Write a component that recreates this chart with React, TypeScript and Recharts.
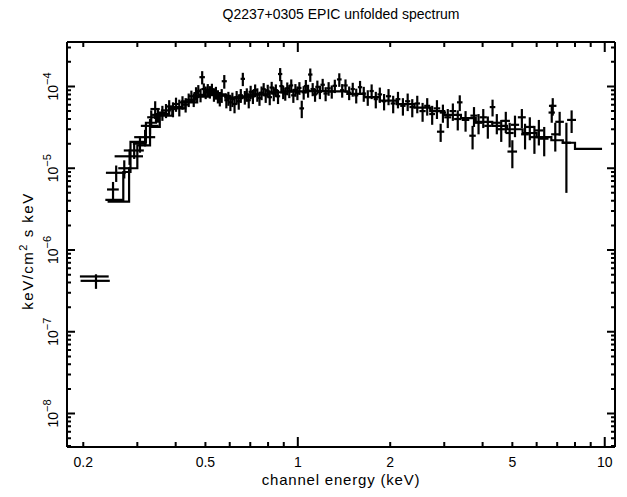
// Q2237+0305 EPIC unfolded spectrum — log-log spectrum with error crosses and step model

import React from 'react';
import { ComposedChart, XAxis, YAxis, Scatter, ErrorBar, Line } from 'recharts';

// ── data: [energy keV, half bin width keV, flux, flux error]  (flux in 1e-5 keV/cm² s keV) ──

const softBand: number[][] = [
  [0.220, 0.024, 0.042, 0.0085],
  [0.250, 0.011, 0.55, 0.13],
  [0.256, 0.019, 0.88, 0.2],
  [0.272, 0.012, 1.0, 0.25],
  [0.283, 0.030, 1.4, 0.3],
  [0.293, 0.022, 1.65, 0.35],
  [0.306, 0.016, 2.0, 0.45],
  [0.318, 0.025, 2.4, 0.55],
  [0.330, 0.022, 3.3, 0.7],
  [0.333, 0.010, 4.2, 0.9],
  [0.343, 0.012, 5.3, 1.3],
  [0.350, 0.015, 4.5, 0.9],
  [0.362, 0.012, 4.8, 1.0],
  [0.372, 0.014, 5.1, 1.0],
  [0.381, 0.010, 5.7, 1.1],
  [0.392, 0.012, 5.3, 1.1],
  [0.401, 0.010, 6.1, 1.2],
  [0.411, 0.012, 5.6, 1.3],
  [0.421, 0.010, 6.4, 1.2],
  [0.431, 0.012, 6.0, 1.2],
  [0.441, 0.010, 6.9, 1.3],
];

const peakBand: number[][] = [
  [0.450, 0.010, 7.6, 1.3],
  [0.458, 0.009, 6.9, 1.3],
  [0.466, 0.009, 8.3, 1.5],
  [0.474, 0.009, 8.8, 1.6],
  [0.482, 0.009, 7.9, 1.5],
  [0.488, 0.010, 13.0, 2.4],
  [0.494, 0.009, 9.3, 1.6],
  [0.501, 0.009, 8.5, 1.5],
  [0.509, 0.009, 9.1, 1.6],
  [0.517, 0.009, 8.6, 1.5],
  [0.525, 0.009, 9.2, 1.6],
  [0.533, 0.009, 8.0, 1.5],
  [0.541, 0.009, 8.4, 1.5],
  [0.549, 0.009, 7.6, 1.4],
  [0.557, 0.009, 7.1, 1.4],
  [0.565, 0.009, 7.8, 1.5],
  [0.576, 0.011, 11.6, 2.2],
  [0.585, 0.009, 6.8, 1.4],
  [0.594, 0.011, 7.2, 1.4],
  [0.603, 0.011, 6.4, 1.4],
  [0.612, 0.011, 7.0, 1.4],
  [0.622, 0.011, 6.1, 1.4],
  [0.632, 0.011, 7.4, 1.4],
  [0.642, 0.011, 6.6, 1.4],
  [0.652, 0.011, 7.8, 1.5],
  [0.662, 0.011, 12.4, 2.3],
  [0.672, 0.011, 7.4, 1.4],
  [0.682, 0.011, 8.0, 1.5],
  [0.692, 0.011, 6.8, 1.4],
  [0.702, 0.011, 8.6, 1.6],
  [0.714, 0.012, 7.6, 1.5],
  [0.726, 0.012, 9.0, 1.6],
  [0.738, 0.012, 8.0, 1.5],
  [0.750, 0.012, 7.2, 1.4],
  [0.762, 0.012, 8.4, 1.6],
  [0.774, 0.012, 9.3, 1.7],
  [0.786, 0.012, 7.8, 1.5],
  [0.798, 0.012, 8.9, 1.6],
  [0.810, 0.014, 7.4, 1.5],
  [0.822, 0.014, 9.7, 1.7],
  [0.835, 0.014, 8.2, 1.6],
  [0.848, 0.014, 9.0, 1.6],
  [0.862, 0.014, 7.6, 1.5],
  [0.876, 0.014, 14.2, 2.6],
  [0.884, 0.014, 10.1, 1.9],
  [0.896, 0.014, 8.6, 1.6],
  [0.910, 0.014, 8.2, 1.5],
  [0.924, 0.014, 9.5, 1.7],
  [0.938, 0.014, 8.8, 1.6],
  [0.952, 0.014, 10.3, 1.9],
  [0.967, 0.016, 7.8, 1.5],
  [0.982, 0.016, 9.1, 1.6],
  [0.997, 0.016, 8.4, 1.6],
];

const midBand: number[][] = [
  [1.012, 0.016, 9.6, 1.7],
  [1.030, 0.018, 5.4, 1.3],
  [1.045, 0.016, 8.5, 1.6],
  [1.062, 0.016, 10.1, 1.9],
  [1.080, 0.016, 8.9, 1.6],
  [1.098, 0.018, 14.0, 2.6],
  [1.118, 0.018, 9.3, 1.7],
  [1.138, 0.018, 8.0, 1.5],
  [1.158, 0.018, 9.9, 1.9],
  [1.180, 0.018, 8.6, 1.6],
  [1.205, 0.020, 10.5, 1.9],
  [1.232, 0.020, 8.2, 1.6],
  [1.260, 0.020, 9.5, 1.8],
  [1.290, 0.022, 8.7, 1.6],
  [1.320, 0.022, 10.2, 1.9],
  [1.365, 0.024, 12.2, 2.3],
  [1.395, 0.022, 9.0, 1.7],
  [1.430, 0.024, 10.3, 1.9],
  [1.470, 0.024, 8.4, 1.6],
  [1.510, 0.024, 9.3, 1.8],
  [1.550, 0.024, 7.8, 1.6],
  [1.595, 0.026, 9.8, 1.9],
  [1.640, 0.026, 8.2, 1.7],
  [1.690, 0.026, 7.4, 1.6],
  [1.740, 0.028, 8.8, 1.8],
  [1.795, 0.028, 7.0, 1.6],
  [1.850, 0.032, 8.0, 1.7],
  [1.910, 0.032, 6.6, 1.5],
  [1.975, 0.038, 7.6, 1.7],
  [2.045, 0.038, 6.2, 1.5],
  [2.120, 0.038, 7.0, 1.6],
  [2.200, 0.044, 5.8, 1.4],
  [2.280, 0.044, 6.6, 1.6],
  [2.360, 0.050, 5.6, 1.4],
  [2.450, 0.050, 6.2, 1.5],
  [2.550, 0.060, 5.0, 1.3],
  [2.640, 0.060, 5.8, 1.4],
  [2.740, 0.060, 4.6, 1.2],
  [2.840, 0.070, 5.4, 1.4],
  [2.920, 0.080, 2.8, 0.7],
  [2.970, 0.070, 4.8, 1.2],
];

const hardBand: number[][] = [
  [3.08, 0.08, 4.2, 1.1],
  [3.20, 0.08, 5.0, 1.2],
  [3.32, 0.09, 4.0, 1.1],
  [3.37, 0.07, 6.4, 1.4],
  [3.52, 0.10, 3.9, 1.1],
  [3.71, 0.09, 2.5, 0.8],
  [3.75, 0.10, 4.4, 1.2],
  [3.88, 0.11, 3.6, 1.0],
  [4.02, 0.11, 4.2, 1.1],
  [4.16, 0.11, 3.3, 1.0],
  [4.31, 0.09, 5.6, 1.3],
  [4.45, 0.13, 3.6, 1.0],
  [4.60, 0.13, 3.0, 0.9],
  [4.76, 0.15, 3.8, 1.1],
  [4.90, 0.15, 2.7, 0.9],
  [5.00, 0.18, 1.6, 0.6],
  [5.10, 0.16, 3.4, 1.0],
  [5.37, 0.16, 4.2, 1.1],
  [5.50, 0.16, 2.6, 0.9],
  [5.70, 0.19, 3.2, 1.0],
  [5.90, 0.19, 2.4, 0.9],
  [6.10, 0.21, 2.9, 1.0],
  [6.35, 0.21, 2.3, 0.9],
  [6.72, 0.16, 4.8, 1.2],
  [6.77, 0.19, 5.8, 1.4],
  [6.90, 0.21, 2.6, 1.0],
  [7.13, 0.23, 3.7, 1.2],
  [7.50, 0.26, 2.05, 1.55],
  [7.80, 0.26, 3.9, 1.2],
];

// model steps: [bin start keV, model flux] (last entry closes the final bin)
const modelLowBin: number[][] = [
  [0.195, 0.0475],
  [0.242, 0.0475],
];

const modelPn: number[][] = [
  [0.236, 0.41], [0.270, 0.90], [0.285, 2.1], [0.320, 3.6], [0.345, 4.6],
  [0.38, 5.6], [0.42, 6.6], [0.46, 7.8], [0.50, 8.6], [0.54, 8.0],
  [0.58, 7.3], [0.64, 7.4], [0.70, 8.0], [0.80, 8.5], [0.90, 8.7],
  [1.05, 8.8], [1.25, 8.7], [1.45, 8.1], [1.65, 7.4], [1.85, 6.7],
  [2.1, 6.1], [2.4, 5.5], [2.7, 5.0], [3.0, 4.5], [3.4, 4.1],
  [3.8, 3.7], [4.3, 3.3], [4.8, 3.0], [5.4, 2.7], [6.0, 2.4],
  [6.7, 2.2], [7.3, 2.05], [8.0, 1.73], [9.8, 1.73],
];

const modelMos: number[][] = [
  [0.240, 0.39], [0.282, 1.0], [0.300, 1.9], [0.330, 3.2], [0.355, 4.4],
  [0.39, 5.4], [0.43, 6.4], [0.47, 7.5], [0.51, 8.3], [0.56, 7.7],
  [0.60, 7.2], [0.66, 7.6], [0.72, 7.6],
];

// ── axes ──

const X_DOMAIN = [0.177, 10.8];
const Y_DOMAIN = [3.9e-9, 3.5e-4];
const xTicks = [0.2, 0.3, 0.4, 0.5, 0.6, 0.7, 0.8, 0.9, 1, 2, 3, 4, 5, 6, 7, 8, 9, 10];
const xMajor = [1, 10];
const xLabels = [0.2, 0.5, 1, 2, 5, 10];
const yDecades = [-9, -8, -7, -6, -5, -4];
const yMultipliers = [1, 2, 3, 4, 5, 6, 7, 8, 9];
const yLabelExps = [-8, -7, -6, -5, -4];

const yTicks = yDecades
  .flatMap((d) => yMultipliers.map((m) => Number((m * Math.pow(10, d)).toPrecision(3))))
  .filter((v) => v >= Y_DOMAIN[0] && v <= Y_DOMAIN[1]);

const isYMajor = (v: number) => yLabelExps.some((p) => Math.abs(v / Math.pow(10, p) - 1) < 1e-6);
const yExp = (v: number) => Math.round(Math.log10(v));

const UNIT = 1e-5;
const toPoints = (rows: number[][]) =>
  rows.map(([e, de, f, df]) => ({ e, ex: de, f: f * UNIT, fy: df * UNIT }));
const toModel = (rows: number[][]) => rows.map(([e, m]) => ({ e, m: m * UNIT }));

const spectrum = toPoints([...softBand, ...peakBand, ...midBand, ...hardBand]);

// ── layout ──

const W = 627;
const H = 497;
const MARGIN = { top: 41, right: 11, bottom: 49, left: 66 };
const PLOT = { left: 67, top: 42, right: 615, bottom: 447 }; // margin + 1px axis box

const FONT = '"Liberation Sans", Arial, sans-serif';
const INK = '#000';
const LW = 2.2;

// same log mapping as the axes, used for the inward frame ticks overlay
const logFrac = (v: number, [a, b]: number[]) => Math.log(v / a) / Math.log(b / a);
const xPix = (v: number) => PLOT.left + (PLOT.right - PLOT.left) * logFrac(v, X_DOMAIN);
const yPix = (v: number) => PLOT.bottom - (PLOT.bottom - PLOT.top) * logFrac(v, Y_DOMAIN);

function FrameTicks() {
  const segs: string[] = [];
  xTicks.forEach((v) => {
    const x = xPix(v);
    const len = xMajor.includes(v) ? 10 : 5;
    segs.push(`M${x},${PLOT.bottom}v${-len}`, `M${x},${PLOT.top}v${len}`);
  });
  yTicks.forEach((v) => {
    const y = yPix(v);
    const len = isYMajor(v) ? 8 : 4;
    segs.push(`M${PLOT.left},${y}h${len}`, `M${PLOT.right},${y}h${-len}`);
  });
  return (
    <svg width={W} height={H} style={{ position: 'absolute', left: 0, top: 0, pointerEvents: 'none' }}>
      <path d={segs.join('')} stroke={INK} strokeWidth={2} fill="none" />
    </svg>
  );
}

// ── tick labels ──

function BottomLabel(props: any) {
  const v = props.payload.value as number;
  if (!xLabels.includes(v)) return <g />;
  return (
    <text x={Number(props.x)} y={Number(props.y) + 20} textAnchor="middle" fontSize={14} fontFamily={FONT} fill={INK}>
      {v}
    </text>
  );
}

function LeftLabel(props: any) {
  const v = props.payload.value as number;
  if (!isYMajor(v)) return <g />;
  return (
    <text
      transform={`translate(${Number(props.x) - 9},${Number(props.y)}) rotate(-90)`}
      textAnchor="middle"
      fontSize={14}
      fontFamily={FONT}
      fill={INK}
    >
      10
      <tspan dy={-7} fontSize={11}>
        {String(yExp(v)).replace('-', '−')}
      </tspan>
    </text>
  );
}

const noMark = () => <g />;

export default function App() {
  const frame = { stroke: INK, strokeWidth: 2 };
  return (
    <div style={{ position: 'absolute', left: 0, top: 0, width: W, height: H, background: '#fff' }}>
      <ComposedChart width={W} height={H} margin={MARGIN}>
        <XAxis xAxisId={0} dataKey="e" type="number" scale="log" domain={X_DOMAIN} allowDataOverflow ticks={xTicks} interval={0} height={1}
          tickSize={0} tickMargin={0} tickLine={false} axisLine={frame} tick={BottomLabel} />
        <XAxis xAxisId="top" orientation="top" dataKey="e" type="number" scale="log" domain={X_DOMAIN} allowDataOverflow ticks={xTicks} interval={0} height={1}
          tickSize={0} tickMargin={0} tickLine={false} axisLine={frame} tick={false} />
        <YAxis yAxisId={0} type="number" scale="log" domain={Y_DOMAIN} allowDataOverflow ticks={yTicks} interval={0} width={1}
          tickSize={0} tickMargin={0} tickLine={false} axisLine={frame} tick={LeftLabel} />
        <YAxis yAxisId="right" orientation="right" type="number" scale="log" domain={Y_DOMAIN} allowDataOverflow ticks={yTicks} interval={0} width={1}
          tickSize={0} tickMargin={0} tickLine={false} axisLine={frame} tick={false} />

        <Line data={toModel(modelLowBin)} dataKey="m" type="stepAfter" dot={false} stroke={INK} strokeWidth={LW} isAnimationActive={false} />
        <Line data={toModel(modelPn)} dataKey="m" type="stepAfter" dot={false} stroke={INK} strokeWidth={LW} isAnimationActive={false} />
        <Line data={toModel(modelMos)} dataKey="m" type="stepAfter" dot={false} stroke={INK} strokeWidth={LW} isAnimationActive={false} />
        <Line xAxisId="top" yAxisId="right" data={toModel(modelLowBin)} dataKey="m" stroke="none" dot={false} isAnimationActive={false} />

        <Scatter data={spectrum} dataKey="f" shape={noMark} isAnimationActive={false}>
          <ErrorBar dataKey="ex" direction="x" width={0} stroke={INK} strokeWidth={LW} isAnimationActive={false} />
          <ErrorBar dataKey="fy" direction="y" width={0} stroke={INK} strokeWidth={LW} isAnimationActive={false} />
        </Scatter>
      </ComposedChart>

      <FrameTicks />

      <div style={{ position: 'absolute', left: 67, top: 6, width: 548, textAlign: 'center', fontFamily: FONT, fontSize: 14, color: INK }}>
        Q2237+0305 EPIC unfolded spectrum
      </div>
      <div style={{ position: 'absolute', left: 67, top: 471, width: 548, textAlign: 'center', fontFamily: FONT, fontSize: 15, letterSpacing: 0.8, color: INK }}>
        channel energy (keV)
      </div>
      <div
        style={{
          position: 'absolute',
          left: 26,
          top: 251,
          transform: 'translate(-50%, -50%) rotate(-90deg)',
          whiteSpace: 'nowrap',
          fontFamily: FONT,
          fontSize: 15,
          letterSpacing: 1.5,
          color: INK,
        }}
      >
        keV/cm<sup style={{ fontSize: 11 }}>2</sup> s keV
      </div>
    </div>
  );
}
